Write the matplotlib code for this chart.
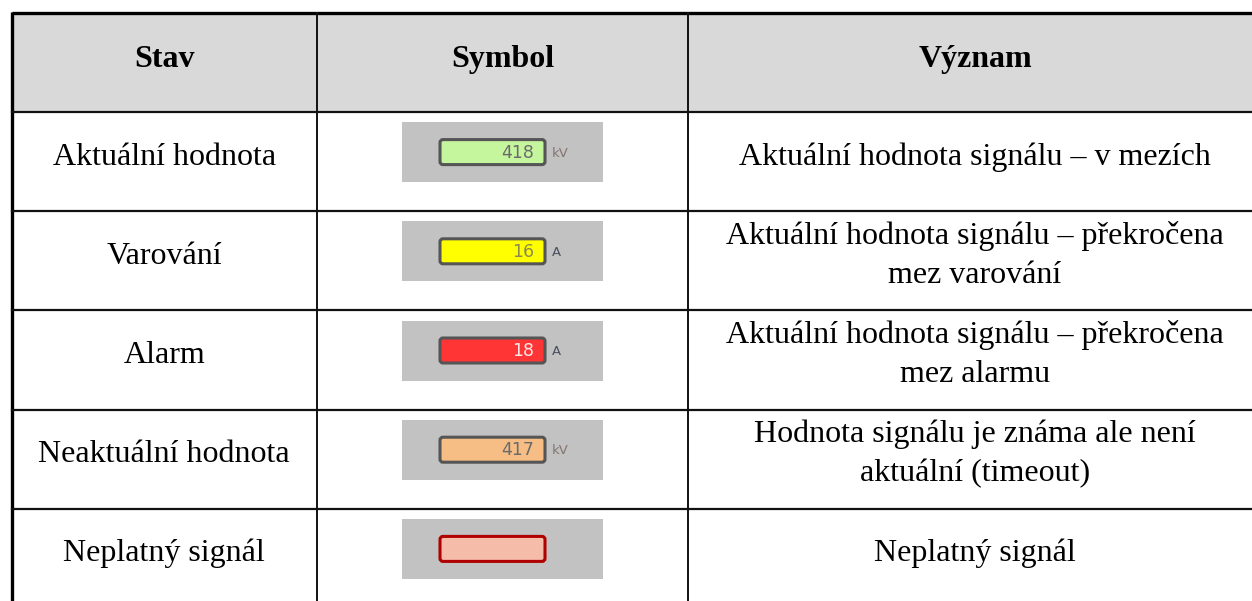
import matplotlib
matplotlib.use("Agg")
import matplotlib.pyplot as plt
from matplotlib.patches import Rectangle, FancyBboxPatch
from matplotlib import font_manager

# ---- data ----
headers = ["Stav", "Symbol", "Význam"]
states = ["Aktuální hodnota", "Varování", "Alarm", "Neaktuální hodnota", "Neplatný signál"]
symbol_values = ["418", "16", "18", "417", ""]
symbol_units = ["kV", "A", "A", "kV", ""]
meanings = [
    "Aktuální hodnota signálu – v mezích",
    "Aktuální hodnota signálu – překročena\nmez varování",
    "Aktuální hodnota signálu – překročena\nmez alarmu",
    "Hodnota signálu je známa ale není\naktuální (timeout)",
    "Neplatný signál",
]
box_fill = ["#c5f59d", "#ffff00", "#ff3535", "#f6be84", "#f5bcaa"]
box_edge = ["#555555", "#555555", "#555555", "#555555", "#b00000"]
value_color = ["#6b6b6b", "#8a8a50", "#ffe8e8", "#6b6b6b", "#000000"]
unit_color = ["#857570", "#4a5060", "#4a5060", "#857570", "#000000"]

# ---- layout (pixels) ----
W, H = 1252, 601
x_left, x_c1, x_c2, x_right = 11.5, 317, 688, 1260
y_top, y_head = 13, 112
row_h = 99.2
line_gap = 38.5
serif = "Liberation Serif"
fs = 23
names = {f.name for f in font_manager.fontManager.ttflist}
value_font = "Liberation Sans Narrow" if "Liberation Sans Narrow" in names else "DejaVu Sans"

fig = plt.figure(figsize=(W / 100, H / 100), dpi=100)
ax = fig.add_axes([0, 0, 1, 1])
ax.set_xlim(0, W)
ax.set_ylim(H, 0)
ax.axis("off")

# header background
ax.add_patch(Rectangle((x_left, y_top), x_right - x_left, y_head - y_top,
                       facecolor="#d9d9d9", edgecolor="none", zorder=0))
col_centers = [(x_left + x_c1) / 2, (x_c1 + x_c2) / 2, (x_c2 + 1262) / 2]
for cx, h in zip(col_centers, headers):
    ax.text(cx, 67, h, ha="center", va="baseline",
            fontsize=fs, fontweight="bold", family=serif, color="black")

# grid lines
ax.plot([x_left, x_right], [y_top, y_top], color="black", lw=2.4, solid_capstyle="butt", zorder=3)
ax.plot([x_left, x_left], [y_top - 1, H + 5], color="black", lw=2.4, solid_capstyle="butt", zorder=3)
for c in (x_c1, x_c2):
    ax.plot([c, c], [y_top, H + 5], color="#111111", lw=1.4, zorder=3)
ax.plot([x_left, x_right], [y_head, y_head], color="#111111", lw=1.6, zorder=3)
for i in range(1, len(states)):
    y = y_head + i * row_h
    ax.plot([x_left, x_right], [y, y], color="#111111", lw=1.6, zorder=3)

for i, st in enumerate(states):
    yc = y_head + (i + 0.5) * row_h
    ax.text(col_centers[0], yc + 3, st, ha="center", va="baseline",
            fontsize=fs, family=serif, color="black")
    lines = meanings[i].split("\n")
    n = len(lines)
    base0 = yc + 3 - (n - 1) * (line_gap / 2 + 0.5)
    for k, ln in enumerate(lines):
        ax.text(col_centers[2], base0 + k * line_gap, ln, ha="center", va="baseline",
                fontsize=fs, family=serif, color="black")
    # symbol
    ys = yc - 9.5
    ax.add_patch(Rectangle((402, ys - 30), 201, 60, facecolor="#c2c2c2",
                           edgecolor="none", zorder=1))
    ax.add_patch(FancyBboxPatch((440, ys - 12.5), 105, 25,
                                boxstyle="round,pad=0,rounding_size=3",
                                facecolor=box_fill[i], edgecolor=box_edge[i],
                                lw=2.2, zorder=2))
    if symbol_values[i]:
        ax.text(534, ys + 0.5, symbol_values[i], ha="right", va="center",
                fontsize=12.5, family=value_font, color=value_color[i], zorder=3)
        ax.text(552, ys + 1, symbol_units[i], ha="left", va="center",
                fontsize=9.5, family="DejaVu Sans", color=unit_color[i], zorder=3)

fig.savefig("out.png", dpi=100)
